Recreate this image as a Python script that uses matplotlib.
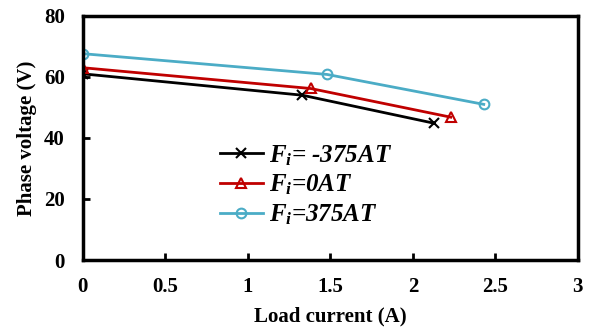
import matplotlib
matplotlib.use("Agg")
import matplotlib.pyplot as plt
from matplotlib.font_manager import FontProperties

plt.rcParams['mathtext.fontset'] = 'custom'
plt.rcParams['mathtext.rm'] = 'Liberation Serif:bold:italic'
plt.rcParams['mathtext.it'] = 'Liberation Serif:bold:italic'
plt.rcParams['mathtext.bf'] = 'Liberation Serif:bold:italic'

# Load current (A) and phase voltage (V) for three field MMF settings
current_neg = [0.0, 1.33, 2.13]
voltage_neg = [61.0, 54.0, 44.8]
current_zero = [0.0, 1.38, 2.23]
voltage_zero = [63.0, 56.2, 46.8]
current_pos = [0.0, 1.48, 2.43]
voltage_pos = [67.6, 60.8, 51.0]
labels = [r"$F_i$= -375AT", r"$F_i$=0AT", r"$F_i$=375AT"]

x_ticks = [0, 0.5, 1, 1.5, 2, 2.5, 3]
x_tick_labels = ["0", "0.5", "1", "1.5", "2", "2.5", "3"]
y_ticks = [0, 20, 40, 60, 80]

fig = plt.figure(figsize=(5.92, 3.30), dpi=100)
ax = fig.add_axes([0.140, 0.212, 0.836, 0.740])

ax.plot(current_neg, voltage_neg, color="black", lw=2.0, marker="x",
        ms=7, mew=1.5, label=labels[0])
ax.plot(current_zero, voltage_zero, color="#c00000", lw=2.0, marker="^",
        ms=7, mew=1.5, mfc="none", label=labels[1])
ax.plot(current_pos, voltage_pos, color="#4bacc6", lw=2.0, marker="o",
        ms=7, mew=1.5, mfc="none", label=labels[2])

ax.set_xlim(0, 3)
ax.set_ylim(0, 80)
ax.set_xticks(x_ticks)
ax.set_xticklabels(x_tick_labels)
ax.set_yticks(y_ticks)

tick_fp = FontProperties(family="Liberation Serif", weight="bold", size=15)
for lab in ax.get_xticklabels() + ax.get_yticklabels():
    lab.set_fontproperties(tick_fp)

ax.tick_params(direction="in", length=5, width=2)
ax.tick_params(axis="x", pad=12)
ax.tick_params(axis="y", pad=13)
for sp in ax.spines.values():
    sp.set_linewidth(2.5)

ax.set_xlabel("Load current (A)", family="Liberation Serif", weight="bold",
              size=15, labelpad=7)
ax.set_ylabel("Phase voltage (V)", family="Liberation Serif", weight="bold",
              size=15, labelpad=5)

leg = ax.legend(loc="upper left", bbox_to_anchor=(0.257, 0.52), frameon=False,
                prop=dict(family="Liberation Serif", style="italic",
                          weight="bold", size=18),
                handlelength=1.7, handletextpad=0.25, labelspacing=0.2,
                borderaxespad=0)

fig.savefig("out.png", dpi=100)
